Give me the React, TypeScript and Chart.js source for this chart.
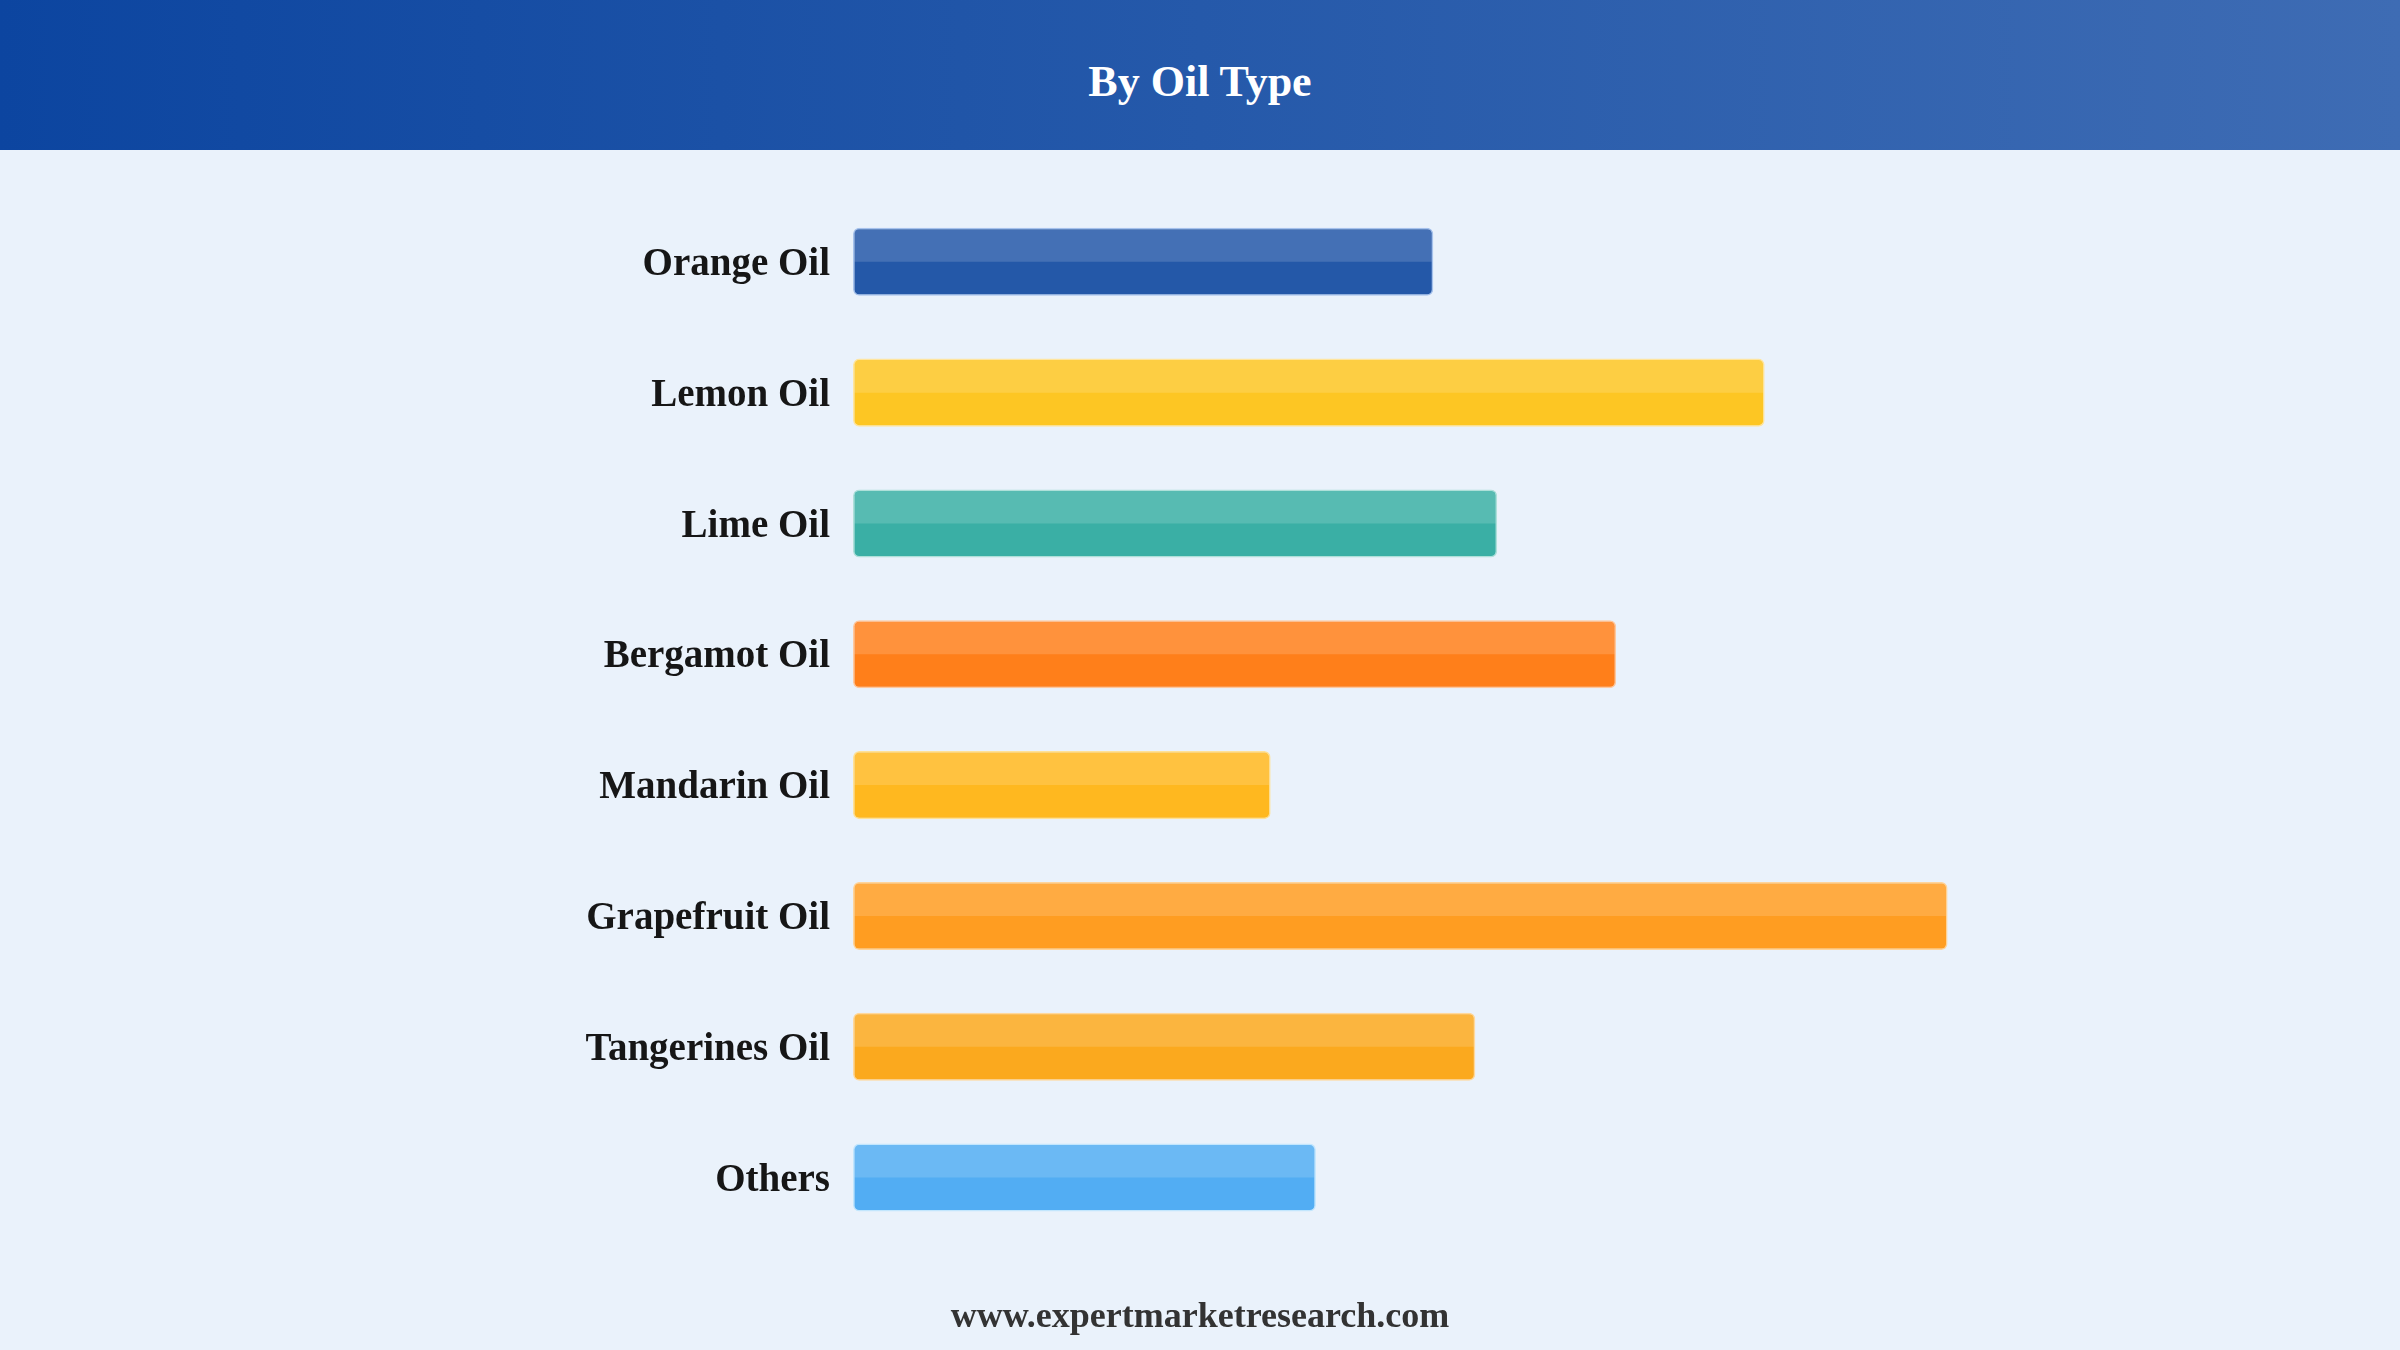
import React, { useEffect, useRef } from "react";
import { Chart, registerables } from "chart.js";

Chart.register(...registerables);

const categories = [
  "Orange Oil",
  "Lemon Oil",
  "Lime Oil",
  "Bergamot Oil",
  "Mandarin Oil",
  "Grapefruit Oil",
  "Tangerines Oil",
  "Others",
];
const shareValues = [10.63, 16.7, 11.8, 13.98, 7.65, 20.05, 11.4, 8.48];
const barColors = ["#2458A8", "#FDC623", "#3AAFA5", "#FF7F1A", "#FFB81F", "#FF9D21", "#FBA91E", "#52ADF3"];
const borderColors = ["#A6C2EC", "#FFE59E", "#AEE0D9", "#FFC89E", "#FFE196", "#FFD49A", "#FFD89C", "#C2E6FD"];

const titleText = "By Oil Type";
const footerText = "www.expertmarketresearch.com";

const SERIF = '"Liberation Serif", "Times New Roman", Times, serif';

const highlightPlugin = {
  id: "topHighlight",
  afterDatasetsDraw(chart: any) {
    const ctx = chart.ctx;
    const meta = chart.getDatasetMeta(0);
    ctx.save();
    meta.data.forEach((bar: any) => {
      const { x, y, base, height } = bar.getProps(["x", "y", "base", "height"], true);
      const bw = 1.5;
      const left = Math.min(x, base) + bw;
      const w = Math.abs(x - base) - 2 * bw;
      const top = y - height / 2 + bw;
      const h = height / 2 - bw;
      ctx.fillStyle = "rgba(255,255,255,0.15)";
      ctx.beginPath();
      if (ctx.roundRect) ctx.roundRect(left, top, w, h, [5, 5, 0, 0]);
      else ctx.rect(left, top, w, h);
      ctx.fill();
    });
    ctx.restore();
  },
};

export default function App() {
  const canvasRef = useRef<HTMLCanvasElement | null>(null);

  useEffect(() => {
    document.body.style.margin = "0";
    const canvas = canvasRef.current;
    if (!canvas) return;
    const chart = new Chart(canvas, {
      type: "bar",
      data: {
        labels: categories,
        datasets: [
          {
            data: shareValues,
            backgroundColor: barColors,
            borderColor: borderColors,
            borderWidth: 1.5,
            borderRadius: 6,
            borderSkipped: false,
            barPercentage: 0.52,
            categoryPercentage: 1,
          },
        ],
      },
      options: {
        indexAxis: "y",
        responsive: false,
        animation: false,
        devicePixelRatio: 1,
        layout: { padding: { left: 0, right: 346, top: 45, bottom: 107 } },
        plugins: {
          legend: { display: false },
          tooltip: { enabled: false },
          title: { display: false },
        },
        scales: {
          x: { display: false, min: 0, max: 22 },
          y: {
            display: true,
            grid: { display: false, drawTicks: false },
            border: { display: false },
            ticks: {
              color: "#161616",
              padding: 23,
              labelOffset: 3,
              font: { family: SERIF, size: 39, weight: "bold" },
            },
            afterFit: (axis: any) => {
              axis.width = 853;
            },
          },
        },
      },
      plugins: [highlightPlugin],
    } as any);
    return () => chart.destroy();
  }, []);

  return (
    <div
      style={{
        position: "fixed",
        left: 0,
        top: 0,
        width: 2400,
        height: 1350,
        background: "#EAF2FB",
        overflow: "hidden",
      }}
    >
      <div
        style={{
          position: "absolute",
          left: 0,
          top: 0,
          width: 2400,
          height: 150,
          background: "linear-gradient(90deg, #0C45A0 0%, #2559AA 50%, #3E6CB4 100%)",
          display: "flex",
          alignItems: "center",
          justifyContent: "center",
          color: "#FFFFFF",
          fontFamily: SERIF,
          fontWeight: "bold",
          fontSize: 44,
          paddingTop: 12,
          boxSizing: "border-box",
        }}
      >
        {titleText}
      </div>
      <canvas
        ref={canvasRef}
        width={2400}
        height={1200}
        style={{ position: "absolute", left: 0, top: 150, width: 2400, height: 1200 }}
      />
      <div
        style={{
          position: "absolute",
          left: 0,
          width: 2400,
          top: 1290,
          height: 50,
          lineHeight: "50px",
          textAlign: "center",
          color: "#333333",
          fontFamily: SERIF,
          fontWeight: "bold",
          fontSize: 36,
        }}
      >
        {footerText}
      </div>
    </div>
  );
}
